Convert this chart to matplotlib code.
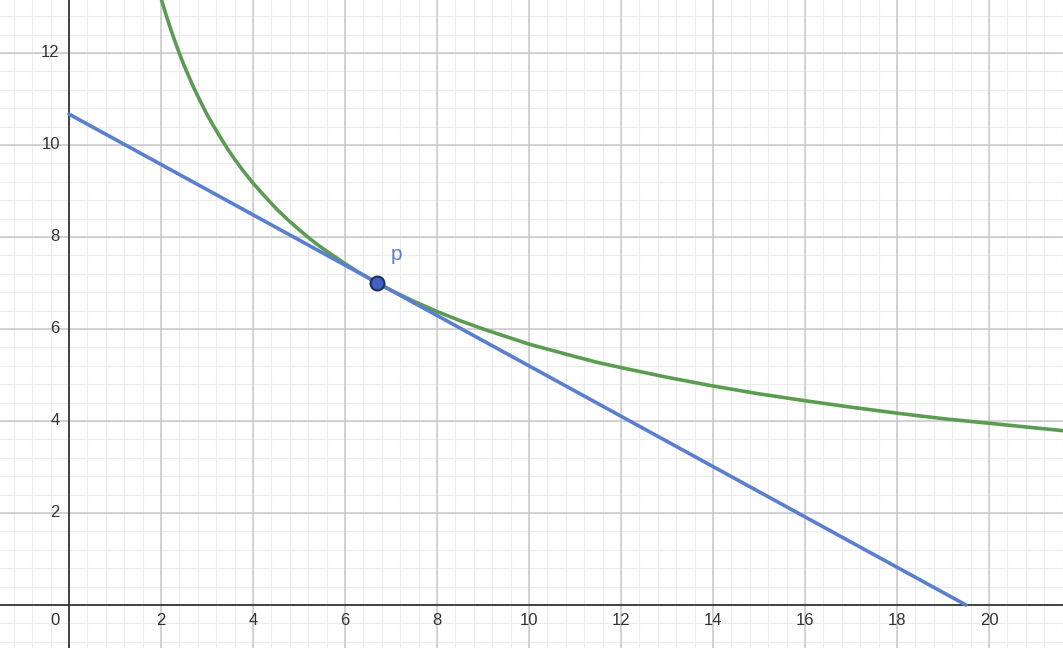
import numpy as np
import matplotlib.pyplot as plt

# values
curve_x = [1.95, 2.0, 2.1, 2.2, 2.3, 2.4, 2.5, 2.6, 2.7, 2.8, 2.9, 3.0, 3.15, 3.3, 3.45, 3.6, 3.8,
           4.0, 4.25, 4.5, 4.75, 5.0, 5.25, 5.5, 6.0, 6.3, 6.7, 7.0, 7.5, 8.0, 8.5, 9.0,
           10.0, 11.0, 11.5, 12.0, 13.0, 14.0, 15.0, 16.0, 17.0, 18.0, 19.0, 20.0, 21.7]
curve_y = [13.37, 13.19, 12.86, 12.55, 12.26, 11.99, 11.73, 11.50, 11.27, 11.06, 10.86, 10.66, 10.40,
           10.15, 9.91, 9.69, 9.42, 9.17, 8.89, 8.62, 8.38, 8.16, 7.95, 7.76, 7.42, 7.23, 7.00, 6.84,
           6.60, 6.38, 6.18, 6.00, 5.67, 5.40, 5.27, 5.16, 4.95, 4.76, 4.59, 4.44, 4.30, 4.17, 4.05,
           3.95, 3.78]
line_x = [0.0, 19.5]
line_y = [10.67, 0.0]
p_x, p_y = 6.7, 7.0
x_ticks = [2, 4, 6, 8, 10, 12, 14, 16, 18, 20]
y_ticks = [2, 4, 6, 8, 10, 12]

green = '#5b9c52'
blue = '#5a7fcf'

plt.rcParams['font.family'] = ['Liberation Sans', 'DejaVu Sans']

fig = plt.figure(figsize=(10.63, 6.48), dpi=100)
ax = fig.add_axes([0, 0, 1, 1])
ax.set_xlim(-1.5, 21.61)
ax.set_ylim(-0.935, 13.15)

# grid: minor every 0.4, major every 2
for v in np.arange(-1.2, 21.7, 0.4):
    ax.axvline(v, color='#ececec', lw=0.8, zorder=0)
for v in np.arange(-0.8, 13.2, 0.4):
    ax.axhline(v, color='#ececec', lw=0.8, zorder=0)
for v in x_ticks:
    ax.axvline(v, color='#c8c8c8', lw=1.1, zorder=1)
for v in y_ticks:
    ax.axhline(v, color='#c8c8c8', lw=1.1, zorder=1)
ax.axvline(0, color='#333333', lw=1.3, zorder=2)
ax.axhline(0, color='#333333', lw=1.3, zorder=2)

for v in x_ticks:
    ax.text(v, -0.34, str(v), ha='center', va='center', fontsize=12, color='#333333', zorder=3)
for v in y_ticks:
    ax.text(-0.2, v, str(v), ha='right', va='center', fontsize=12, color='#333333', zorder=3)
ax.text(-0.2, -0.34, '0', ha='right', va='center', fontsize=12, color='#333333', zorder=3)

ax.plot(curve_x, curve_y, color=green, lw=2.6, zorder=4, solid_capstyle='round', solid_joinstyle='round')
ax.plot(line_x, line_y, color=blue, lw=2.6, zorder=5, solid_capstyle='round')
ax.plot([p_x], [p_y], 'o', ms=10, mfc='#3f62c4', mec='#1f2f55', mew=1.5, zorder=6)
ax.text(p_x + 0.42, p_y + 0.62, 'p', color=blue, fontsize=15, ha='center', va='center', zorder=6)

ax.axis('off')
fig.savefig('out.png', dpi=100)
